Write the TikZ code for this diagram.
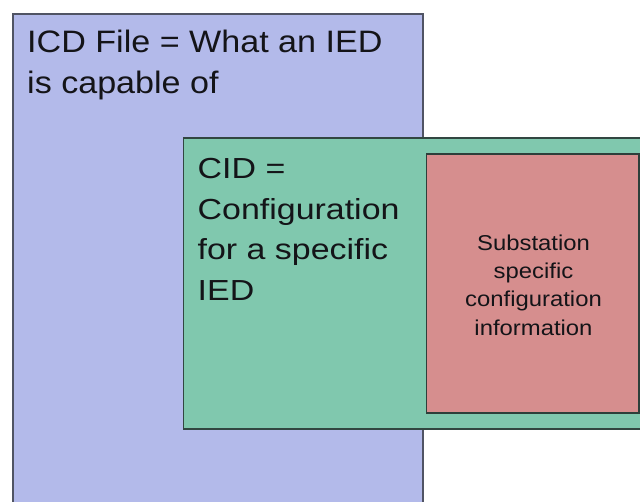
\documentclass[tikz,border=0pt]{standalone}
\usepackage{fontspec}
\setmainfont{Liberation Sans}
\usepackage{graphicx}
\definecolor{icdblue}{RGB}{179,186,234}
\definecolor{cidgreen}{RGB}{128,200,174}
\definecolor{subred}{RGB}{214,142,142}
\definecolor{edgegray}{RGB}{80,84,100}
\definecolor{edgedark}{RGB}{50,70,65}
\definecolor{txt}{RGB}{20,20,24}
\tikzset{
  panel/.style={line width=1.6pt},
  bigtext/.style={anchor=base west, inner sep=0pt, align=left, text=txt,
    font=\fontsize{31}{41.3}\selectfont},
  midtext/.style={anchor=base west, inner sep=0pt, align=left, text=txt,
    font=\fontsize{29}{40.8}\selectfont},
  smalltext/.style={anchor=base, inner sep=0pt, align=center, text=txt,
    font=\fontsize{21.5}{28.3}\selectfont}
}
\begin{document}
\begin{tikzpicture}[x=1pt,y=-1pt]
\useasboundingbox (0,0) rectangle (640,502);
\clip (0,0) rectangle (640,502);
\fill[white] (0,0) rectangle (640,502);
\draw[panel, draw=edgegray, fill=icdblue] (13,14) rectangle (423,520);
\draw[panel, draw=edgedark, fill=cidgreen] (183.5,138) rectangle (670,429);
\draw[panel, draw=edgedark!90!black, fill=subred] (426.5,154) rectangle (639,413);
% base anchor of a multi-line node is the baseline of its last line
\node[bigtext] (icd) at (27,94) {\scalebox{1.1}[1]{ICD File = What an IED}\\\scalebox{1.1}[1]{is capable of}};
\node[midtext] (cid) at (197.5,300.7) {\scalebox{1.17}[1]{CID =}\\\scalebox{1.17}[1]{Configuration}\\\scalebox{1.17}[1]{for a specific}\\\scalebox{1.17}[1]{IED}};
\node[smalltext] (sub) at (533.5,335.3) {\scalebox{1.11}[1]{Substation}\\\scalebox{1.11}[1]{specific}\\\scalebox{1.11}[1]{configuration}\\\scalebox{1.11}[1]{information}};
\end{tikzpicture}
\end{document}
